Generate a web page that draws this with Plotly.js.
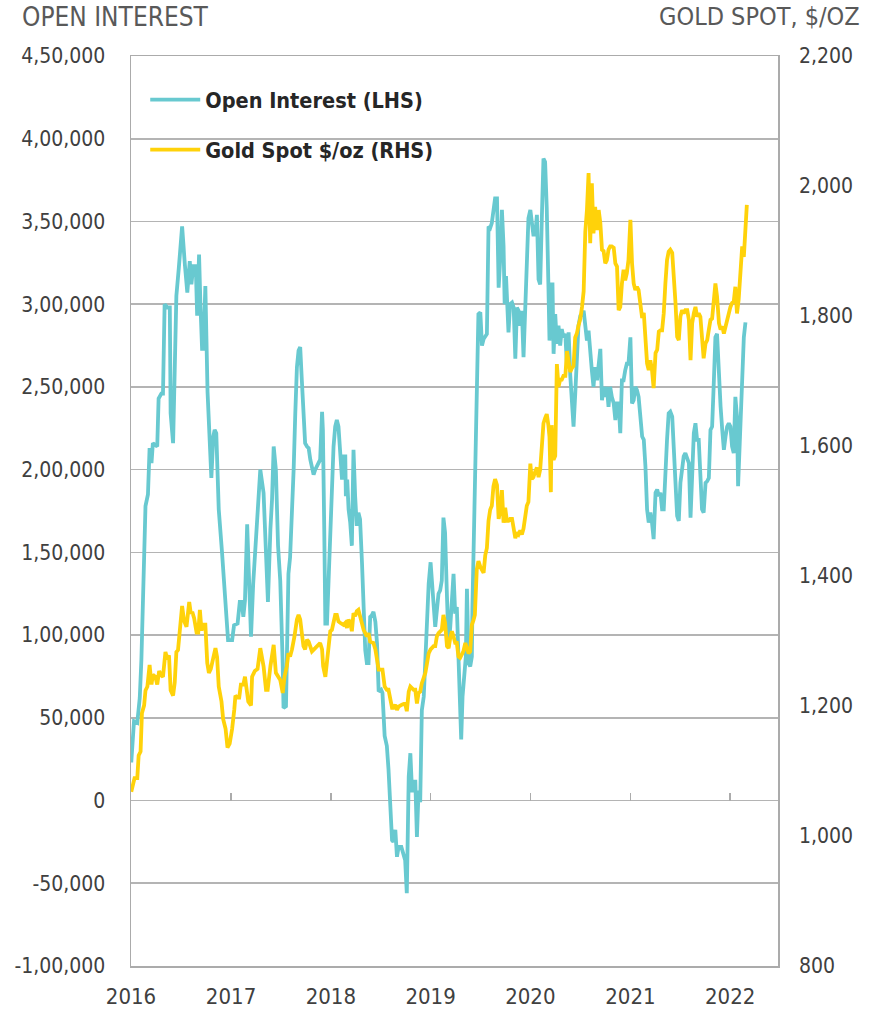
<!DOCTYPE html>
<html>
<head>
<meta charset="utf-8">
<script src="https://cdn.plot.ly/plotly-3.0.1.min.js"></script>
<style>
html,body{margin:0;padding:0;background:#ffffff;}
#chart{width:881px;height:1015px;}
</style>
</head>
<body>
<div id="chart"></div>
<script>
// ---------- DATA ----------
const oiDates = [
'2016-01-02','2016-01-12','2016-01-24','2016-02-02','2016-02-08','2016-02-14','2016-02-23','2016-03-03','2016-03-09','2016-03-16',
'2016-03-21','2016-04-06','2016-04-11','2016-04-21','2016-04-27','2016-05-03','2016-05-13','2016-05-22','2016-05-25','2016-06-03',
'2016-06-09','2016-06-15','2016-06-24','2016-07-06','2016-07-16','2016-07-25','2016-08-03','2016-08-09','2016-08-16','2016-08-25',
'2016-08-30','2016-09-06','2016-09-11','2016-09-17','2016-09-22','2016-09-29','2016-10-07','2016-10-14','2016-10-21','2016-10-28',
'2016-11-02','2016-11-08','2016-11-17','2016-11-29','2016-12-09','2016-12-15','2016-12-21','2016-12-27','2017-01-05','2017-01-12',
'2017-01-25','2017-02-02','2017-02-09','2017-02-15','2017-02-21','2017-03-01','2017-03-07','2017-03-15','2017-03-23','2017-04-04',
'2017-04-18','2017-04-30','2017-05-09','2017-05-16','2017-05-25','2017-05-31','2017-06-06','2017-06-14','2017-06-22','2017-06-30',
'2017-07-09','2017-07-12','2017-07-21','2017-07-24','2017-07-30','2017-08-05','2017-08-12','2017-08-18','2017-08-24','2017-08-30',
'2017-09-05','2017-09-11','2017-09-17','2017-09-23','2017-09-29','2017-10-06','2017-10-12','2017-10-18','2017-10-24','2017-10-30',
'2017-11-05','2017-11-11','2017-11-17','2017-11-23','2017-11-30','2017-12-03','2017-12-08','2017-12-12','2017-12-18','2017-12-24',
'2017-12-30','2018-01-05','2018-01-11','2018-01-17','2018-01-23','2018-01-29','2018-02-04','2018-02-11','2018-02-16','2018-02-23',
'2018-02-25','2018-03-02','2018-03-07','2018-03-13','2018-03-19','2018-03-25','2018-03-31','2018-04-06','2018-04-12','2018-04-18',
'2018-04-25','2018-05-01','2018-05-07','2018-05-13','2018-05-19','2018-05-25','2018-05-31','2018-06-06','2018-06-13','2018-06-19',
'2018-06-25','2018-07-04','2018-07-09','2018-07-17','2018-07-25','2018-07-31','2018-08-06','2018-08-13','2018-08-18','2018-08-25',
'2018-08-31','2018-09-06','2018-09-16','2018-09-24','2018-09-30','2018-10-06','2018-10-13','2018-10-19','2018-10-25','2018-10-31',
'2018-11-06','2018-11-12','2018-11-18','2018-11-24','2018-11-30','2018-12-07','2018-12-13','2018-12-19','2018-12-25','2019-01-01',
'2019-01-06','2019-01-12','2019-01-18','2019-01-24','2019-01-30','2019-02-05','2019-02-11','2019-02-17','2019-02-23','2019-03-02',
'2019-03-08','2019-03-14','2019-03-20','2019-03-26','2019-04-01','2019-04-07','2019-04-13','2019-04-19','2019-04-23','2019-04-28',
'2019-05-05','2019-05-10','2019-05-14','2019-05-20','2019-05-26','2019-06-01','2019-06-03','2019-06-11','2019-06-19','2019-06-25',
'2019-07-02','2019-07-08','2019-07-14','2019-07-20','2019-07-26','2019-08-01','2019-08-07','2019-08-13','2019-08-19','2019-08-25',
'2019-09-01','2019-09-07','2019-09-13','2019-09-19','2019-09-25','2019-09-29','2019-10-04','2019-10-08','2019-10-13','2019-10-19',
'2019-10-26','2019-11-01','2019-11-07','2019-11-13','2019-11-19','2019-11-25','2019-12-01','2019-12-07','2019-12-13','2019-12-19',
'2019-12-25','2020-01-01','2020-01-06','2020-01-12','2020-01-19','2020-01-25','2020-01-31','2020-02-06','2020-02-12','2020-02-18',
'2020-02-24','2020-03-01','2020-03-07','2020-03-11','2020-03-17','2020-03-22','2020-03-26','2020-04-01','2020-04-07','2020-04-13',
'2020-04-19','2020-04-25','2020-05-01','2020-05-08','2020-05-14','2020-05-20','2020-05-26','2020-06-01','2020-06-07','2020-06-13',
'2020-06-19','2020-06-25','2020-07-02','2020-07-08','2020-07-14','2020-07-20','2020-07-26','2020-08-01','2020-08-07','2020-08-13',
'2020-08-19','2020-08-25','2020-09-01','2020-09-07','2020-09-13','2020-09-19','2020-09-25','2020-10-01','2020-10-07','2020-10-13',
'2020-10-19','2020-10-25','2020-11-01','2020-11-07','2020-11-13','2020-11-19','2020-11-25','2020-12-01','2020-12-07','2020-12-13',
'2020-12-19','2020-12-25','2021-01-01','2021-01-07','2021-01-13','2021-01-19','2021-01-25','2021-01-31','2021-02-07','2021-02-13',
'2021-02-19','2021-02-25','2021-03-03','2021-03-09','2021-03-15','2021-03-21','2021-03-27','2021-04-03','2021-04-09','2021-04-15',
'2021-04-21','2021-04-27','2021-05-03','2021-05-09','2021-05-15','2021-05-21','2021-05-27','2021-06-03','2021-06-09','2021-06-15',
'2021-06-21','2021-06-27','2021-07-03','2021-07-09','2021-07-15','2021-07-21','2021-07-28','2021-08-03','2021-08-09','2021-08-15',
'2021-08-21','2021-08-27','2021-09-02','2021-09-08','2021-09-14','2021-09-20','2021-09-26','2021-10-03','2021-10-09','2021-10-15',
'2021-10-21','2021-10-27','2021-11-02','2021-11-08','2021-11-14','2021-11-21','2021-11-27','2021-12-03','2021-12-09','2021-12-15',
'2021-12-21','2021-12-27','2022-01-02','2022-01-08','2022-01-14','2022-01-20','2022-01-26','2022-01-30','2022-02-04','2022-02-07',
'2022-02-14','2022-02-20','2022-02-26'
];
const oiValues = [
23000,48000,47000,62000,85000,127000,178000,185000,213000,204000,
216000,214000,243000,246000,246000,300000,298000,298000,234000,216000,
252000,305000,322000,347000,324000,307000,326000,312000,323000,323000,
293000,330000,300000,273000,273000,311000,247000,213000,195000,220000,
224000,222000,176000,150000,127000,118000,97000,97000,97000,106000,
107000,120000,120000,111000,121000,167000,131000,99000,131000,166000,
200000,186000,154000,120000,164000,182000,214000,200000,154000,133000,
83000,56000,57000,87000,137000,147000,174000,200000,234000,262000,
272000,274000,254000,234000,216000,214000,213000,206000,200000,197000,
200000,202000,204000,206000,235000,224000,164000,107000,107000,133000,
160000,192000,214000,226000,230000,226000,210000,194000,208000,208000,
184000,194000,176000,168000,154000,212000,184000,166000,174000,170000,
144000,113000,91000,83000,83000,111000,112000,114000,108000,95000,
66000,67000,65000,39000,33000,19000,-1600,-24000,-25000,-17700,
-34000,-28000,-28000,-32000,-36000,-56000,14500,28600,6000,6000,
12500,-22000,6000,-1000,54600,62800,87000,107000,131000,144000,
131000,119000,105000,115000,125000,127000,133000,171000,162000,123000,
93000,105000,123000,137000,113000,117000,87000,55000,37000,63000,
77000,87000,128000,83000,81000,87000,116000,185000,254000,294000,
295000,275000,279000,281000,282000,347000,346000,349000,358000,364000,
364000,310000,328000,357000,335000,300000,317000,303000,283000,300000,
301000,298000,267000,298000,296000,287000,296000,268000,296000,324000,
352000,357000,349000,342000,342000,354000,315000,312000,352000,388000,
386000,358000,312000,278000,312000,312000,270000,294000,276000,287000,
275000,285000,280000,282000,262000,283000,257000,241000,226000,245000,
268000,287000,293000,294000,296000,285000,278000,284000,268000,260000,
250000,262000,254000,262000,273000,242000,250000,244000,250000,238000,
250000,244000,240000,230000,240000,240000,222000,254000,254000,260000,
264000,264000,280000,240000,242000,250000,248000,244000,232000,220000,
218000,202000,176000,168000,174000,168000,158000,186000,188000,184000,
186000,176000,176000,202000,218000,234000,235000,232000,212000,192000,
172000,169000,192000,200000,208000,210000,206000,204000,171000,192000,
222000,228000,218000,218000,200000,176000,174000,192000,193000,195000,
224000,226000,252000,280000,282000,252000,238000,224000,212000,220000,
226000,228000,226000,214000,210000,244000,232000,190000,210000,232000,
252000,280000,289000
];

const goldDates = [
'2016-01-02','2016-01-14','2016-01-24','2016-01-29','2016-02-05','2016-02-10','2016-02-18','2016-02-23','2016-03-01','2016-03-09',
'2016-03-16','2016-03-21','2016-03-30','2016-04-06','2016-04-13','2016-04-19','2016-04-27','2016-05-06','2016-05-13','2016-05-19',
'2016-05-25','2016-06-03','2016-06-09','2016-06-15','2016-06-21','2016-06-27','2016-07-06','2016-07-13','2016-07-22','2016-08-01',
'2016-08-07','2016-08-12','2016-08-19','2016-08-28','2016-09-03','2016-09-09','2016-09-15','2016-09-21','2016-09-29','2016-10-06',
'2016-10-12','2016-10-19','2016-10-28','2016-11-05','2016-11-11','2016-11-17','2016-11-27','2016-12-03','2016-12-12','2016-12-19',
'2016-12-27','2017-01-05','2017-01-13','2017-01-17','2017-01-25','2017-01-31','2017-02-06','2017-02-15','2017-02-21','2017-02-27',
'2017-03-05','2017-03-15','2017-03-19','2017-03-29','2017-04-08','2017-04-18','2017-04-30','2017-05-09','2017-05-15','2017-05-25',
'2017-06-06','2017-06-14','2017-06-22','2017-06-30','2017-07-09','2017-07-16','2017-07-24','2017-07-30','2017-08-05','2017-08-12',
'2017-08-21','2017-08-30','2017-09-05','2017-09-11','2017-09-17','2017-09-23','2017-09-29','2017-10-06','2017-10-12','2017-10-24',
'2017-11-05','2017-11-17','2017-11-23','2017-11-30','2017-12-04','2017-12-12','2017-12-18','2017-12-24','2017-12-30','2018-01-05',
'2018-01-11','2018-01-17','2018-01-23','2018-01-29','2018-02-04','2018-02-16','2018-02-23','2018-03-01','2018-03-07','2018-03-13',
'2018-03-19','2018-03-25','2018-03-31','2018-04-06','2018-04-12','2018-04-18','2018-04-25','2018-05-01','2018-05-13','2018-05-19',
'2018-05-25','2018-06-06','2018-06-13','2018-06-19','2018-06-25','2018-07-01','2018-07-09','2018-07-17','2018-07-25','2018-07-31',
'2018-08-06','2018-08-13','2018-08-18','2018-08-25','2018-08-31','2018-09-06','2018-09-18','2018-09-30','2018-10-06','2018-10-13',
'2018-10-19','2018-10-31','2018-11-06','2018-11-12','2018-11-18','2018-11-24','2018-11-30','2018-12-07','2018-12-13','2018-12-19',
'2018-12-25','2019-01-01','2019-01-12','2019-01-18','2019-01-24','2019-01-30','2019-02-11','2019-02-17','2019-02-23','2019-03-02',
'2019-03-08','2019-03-14','2019-03-20','2019-03-26','2019-04-01','2019-04-07','2019-04-13','2019-04-19','2019-04-25','2019-05-01',
'2019-05-08','2019-05-14','2019-05-20','2019-05-26','2019-06-01','2019-06-07','2019-06-12','2019-06-19','2019-06-25','2019-07-02',
'2019-07-08','2019-07-14','2019-07-20','2019-07-26','2019-08-01','2019-08-07','2019-08-13','2019-08-19','2019-08-25','2019-09-01',
'2019-09-07','2019-09-13','2019-09-19','2019-09-25','2019-10-01','2019-10-07','2019-10-13','2019-10-19','2019-10-26','2019-11-01',
'2019-11-07','2019-11-13','2019-11-19','2019-11-25','2019-12-01','2019-12-07','2019-12-13','2019-12-19','2019-12-25','2020-01-01',
'2020-01-06','2020-01-12','2020-01-19','2020-01-25','2020-01-31','2020-02-06','2020-02-12','2020-02-18','2020-02-24','2020-03-01',
'2020-03-07','2020-03-11','2020-03-16','2020-03-19','2020-03-26','2020-04-01','2020-04-07','2020-04-13','2020-04-19','2020-04-25',
'2020-05-01','2020-05-08','2020-05-14','2020-05-20','2020-05-26','2020-06-01','2020-06-07','2020-06-13','2020-06-19','2020-06-25',
'2020-07-02','2020-07-08','2020-07-14','2020-07-20','2020-07-26','2020-08-01','2020-08-07','2020-08-13','2020-08-19','2020-08-25',
'2020-09-01','2020-09-07','2020-09-13','2020-09-19','2020-09-25','2020-10-01','2020-10-07','2020-10-13','2020-10-19','2020-10-25',
'2020-11-01','2020-11-07','2020-11-13','2020-11-19','2020-11-25','2020-12-01','2020-12-07','2020-12-13','2020-12-19','2020-12-25',
'2021-01-01','2021-01-07','2021-01-13','2021-01-19','2021-01-25','2021-01-31','2021-02-07','2021-02-13','2021-02-19','2021-02-25',
'2021-03-03','2021-03-09','2021-03-15','2021-03-21','2021-03-27','2021-04-03','2021-04-09','2021-04-15','2021-04-21','2021-04-27',
'2021-05-03','2021-05-09','2021-05-15','2021-05-21','2021-05-27','2021-06-03','2021-06-09','2021-06-15','2021-06-21','2021-06-27',
'2021-07-03','2021-07-09','2021-07-15','2021-07-21','2021-07-28','2021-08-03','2021-08-09','2021-08-15','2021-08-21','2021-08-27',
'2021-09-02','2021-09-08','2021-09-14','2021-09-20','2021-09-26','2021-10-03','2021-10-09','2021-10-15','2021-10-21','2021-10-27',
'2021-11-02','2021-11-08','2021-11-14','2021-11-21','2021-11-27','2021-12-03','2021-12-09','2021-12-15','2021-12-21','2021-12-27',
'2022-01-02','2022-01-08','2022-01-14','2022-01-20','2022-01-26','2022-02-01','2022-02-07','2022-02-14','2022-02-20','2022-02-26',
'2022-03-03'
];
const goldValues = [
1068,1089,1089,1124,1130,1189,1201,1224,1230,1263,
1233,1248,1245,1233,1254,1248,1245,1283,1272,1278,
1224,1216,1236,1283,1286,1313,1354,1331,1322,1360,
1342,1345,1335,1313,1313,1348,1316,1325,1325,1266,
1251,1257,1275,1289,1275,1230,1207,1180,1165,1136,
1142,1165,1195,1216,1213,1213,1233,1233,1245,1230,
1207,1201,1245,1254,1257,1289,1261,1225,1225,1261,
1294,1251,1245,1240,1220,1246,1261,1281,1276,1287,
1307,1333,1340,1333,1312,1292,1287,1302,1299,1284,
1289,1294,1297,1287,1261,1245,1266,1287,1315,1317,
1333,1340,1340,1330,1328,1325,1328,1320,1333,1328,
1315,1343,1338,1346,1348,1338,1322,1317,1307,1312,
1299,1297,1287,1271,1256,1256,1256,1230,1225,1225,
1210,1197,1197,1202,1194,1199,1202,1204,1192,1222,
1230,1225,1225,1204,1220,1222,1235,1243,1251,1266,
1281,1287,1292,1292,1307,1312,1317,1340,1328,1292,
1289,1305,1315,1307,1297,1297,1276,1274,1281,1284,
1297,1289,1281,1284,1325,1332,1340,1410,1423,1414,
1410,1405,1432,1443,1485,1502,1508,1538,1549,1540,
1488,1500,1532,1482,1505,1485,1485,1488,1488,1476,
1458,1467,1464,1470,1464,1473,1490,1508,1514,1573,
1549,1552,1561,1567,1552,1564,1599,1635,1643,1649,
1632,1614,1529,1632,1579,1585,1726,1691,1702,1702,
1708,1708,1746,1726,1714,1720,1723,1767,1773,1785,
1796,1814,1838,1929,1963,2020,1912,2004,1927,1968,
1932,1963,1943,1902,1900,1881,1886,1902,1907,1907,
1905,1881,1876,1809,1814,1850,1871,1855,1866,1886,
1948,1881,1850,1840,1845,1840,1814,1797,1805,1768,
1727,1717,1732,1717,1689,1743,1748,1776,1778,1778,
1804,1850,1886,1899,1902,1897,1866,1820,1768,1763,
1799,1809,1804,1809,1809,1794,1732,1789,1804,1814,
1799,1804,1799,1758,1735,1758,1763,1779,1794,1796,
1830,1850,1830,1789,1779,1784,1773,1784,1794,1804,
1814,1820,1822,1845,1804,1825,1855,1907,1891,1932,
1971
];

const leftTickVals = [-100000,-50000,0,50000,100000,150000,200000,250000,300000,350000,400000,450000];
const leftTickText = ['-1,00,000','-50,000','0','50,000','1,00,000','1,50,000','2,00,000','2,50,000','3,00,000','3,50,000','4,00,000','4,50,000'];
const rightTickVals = [800,1000,1200,1400,1600,1800,2000,2200];
const rightTickText = ['800','1,000','1,200','1,400','1,600','1,800','2,000','2,200'];
const yearTickVals = ['2016-01-01','2017-01-01','2018-01-01','2019-01-01','2020-01-01','2021-01-01','2022-01-01'];
const yearTickText = ['2016','2017','2018','2019','2020','2021','2022'];
const seriesNames = ['Open Interest (LHS)', 'Gold Spot $/oz (RHS)'];

// ---------- STYLE ----------
const FONT = '"Liberation Sans Narrow", "Arial Narrow", "DejaVu Sans Condensed", sans-serif';
const TEAL = '#68C9D0';
const GOLD = '#FFD20A';
const GRID = '#B4B4B4';
const XRANGE = ['2016-01-01', '2022-06-25'];
const YRANGE = [-100000, 450000];

const traces = [
  {x: oiDates, y: oiValues, name: seriesNames[0], type: 'scatter', mode: 'lines',
   line: {color: TEAL, width: 3.8}, xaxis: 'x', yaxis: 'y', legend: 'legend'},
  {x: goldDates, y: goldValues, name: seriesNames[1], type: 'scatter', mode: 'lines',
   line: {color: GOLD, width: 3.8}, xaxis: 'x', yaxis: 'y2', legend: 'legend2'},
  {x: [], y: [], xaxis: 'x2', yaxis: 'y', showlegend: false, hoverinfo: 'skip'}
];

const legendBase = {
  xanchor: 'left', yanchor: 'middle', bgcolor: 'rgba(0,0,0,0)', borderwidth: 0,
  itemwidth: 50,
  font: {family: FONT, size: 21.5, color: '#262626', weight: 'bold'}
};

const layout = {
  width: 881, height: 1015,
  margin: {l: 131, r: 103, t: 56, b: 49, pad: 0},
  paper_bgcolor: '#ffffff', plot_bgcolor: '#ffffff',
  font: {family: FONT, size: 21, color: '#404040'},
  showlegend: true,
  xaxis: {
    type: 'date', range: XRANGE, tickmode: 'array', tickvals: yearTickVals, ticktext: yearTickText,
    ticks: '', showgrid: false, zeroline: false,
    showline: true, linecolor: '#ABABAB', linewidth: 1.5, mirror: true,
    ticklabelstandoff: 10, tickfont: {family: FONT, size: 22, color: '#404040'}
  },
  xaxis2: {
    type: 'date', range: XRANGE, overlaying: 'x', anchor: 'free',
    position: (0 - YRANGE[0]) / (YRANGE[1] - YRANGE[0]),
    tickmode: 'array', tickvals: yearTickVals, showticklabels: false,
    ticks: 'inside', ticklen: 8, tickwidth: 1.5, tickcolor: '#ABABAB',
    showgrid: false, zeroline: false, showline: false
  },
  yaxis: {
    range: YRANGE, tickmode: 'array', tickvals: leftTickVals, ticktext: leftTickText,
    showgrid: true, gridcolor: GRID, gridwidth: 1.6, zeroline: false,
    showline: true, linecolor: '#ABABAB', linewidth: 1.5, mirror: true,
    ticks: '', ticklabelstandoff: 20, tickfont: {family: FONT, size: 21, color: '#404040'}
  },
  yaxis2: {
    range: [800, 2200], overlaying: 'y', side: 'right', tickmode: 'array',
    tickvals: rightTickVals, ticktext: rightTickText,
    showgrid: false, zeroline: false, showline: false,
    ticks: '', ticklabelstandoff: 20, tickfont: {family: FONT, size: 21, color: '#404040'}
  },
  legend: Object.assign({}, legendBase, {x: 0.022, y: 0.952}),
  legend2: Object.assign({}, legendBase, {x: 0.022, y: 0.897}),
  annotations: [
    {text: 'OPEN INTEREST', xref: 'paper', yref: 'paper', x: -0.1716, y: 1.043,
     xanchor: 'left', yanchor: 'middle', showarrow: false,
     font: {family: FONT, size: 26, color: '#595959'}},
    {text: 'GOLD SPOT, $/OZ', xref: 'paper', yref: 'paper', x: 1.1298, y: 1.043,
     xanchor: 'right', yanchor: 'middle', showarrow: false,
     font: {family: FONT, size: 25, color: '#595959'}}
  ]
};

Plotly.newPlot('chart', traces, layout, {staticPlot: true, displayModeBar: false});
</script>
</body>
</html>
